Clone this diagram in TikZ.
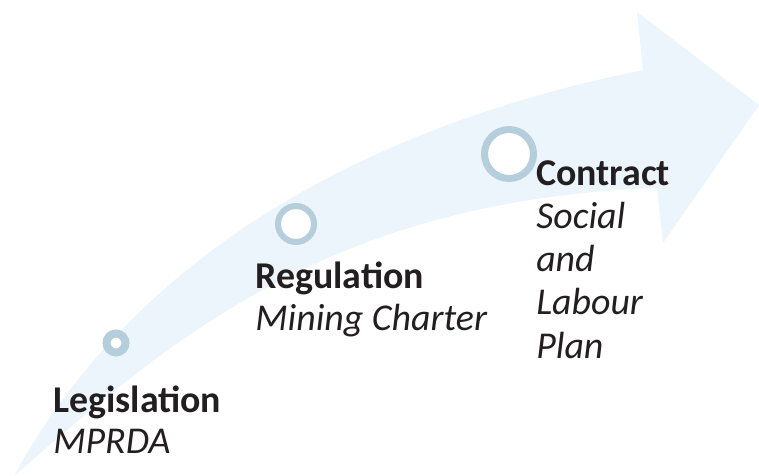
\documentclass[tikz,border=0pt]{standalone}
\usepackage{fontspec}
\setmainfont{Carlito}
\usepackage{tikz}
\usetikzlibrary{positioning}
\definecolor{arrowfill}{RGB}{236,245,251}
\definecolor{ringblue}{RGB}{181,206,220}
\definecolor{textdark}{RGB}{35,31,32}

\begin{document}
\begin{tikzpicture}[x=0.75pt, y=-0.75pt,
  ring/.style={draw=ringblue, circle, inner sep=0pt, fill=white},
  head/.style={anchor=base west, inner sep=0pt, text=textdark, font=\fontsize{28.4}{32}\selectfont\bfseries},
  sub/.style={inner sep=0pt, text=textdark, align=left, font=\fontsize{28.4}{32.5}\selectfont\itshape}]
  \useasboundingbox (0,0) rectangle (759,475);

  % Big curved arrow
  \fill[arrowfill] (14,476) .. controls (110,300) and (300,140) .. (643,70)
    -- (637,12) -- (759,105) -- (663,243) -- (657,188)
    .. controls (320,200) and (160,350) .. (14,476) -- cycle;

  % Milestones
  \node[ring, line width=6pt, minimum size=14.25pt] (c1) at (116,343) {};
  \node[ring, line width=4.5pt, minimum size=27pt] (c2) at (296,224) {};
  \node[ring, line width=5.25pt, minimum size=36.75pt] (c3) at (509,154) {};

  % Labels
  \node[head] (leg) at (53,412) {Legislation};
  \node[sub, below=30.75pt of leg.base west, anchor=base west] (legsub) {MPRDA};
  \node[head] (reg) at (255,288) {Regulation};
  \node[sub, below=31.5pt of reg.base west, anchor=base west] (regsub) {Mining Charter};
  \node[head] (con) at (536,185) {Contract};
  \node[sub, below=12.5pt of con.base west, anchor=north west] (consub) {Social\\and\\Labour\\Plan};
\end{tikzpicture}
\end{document}
